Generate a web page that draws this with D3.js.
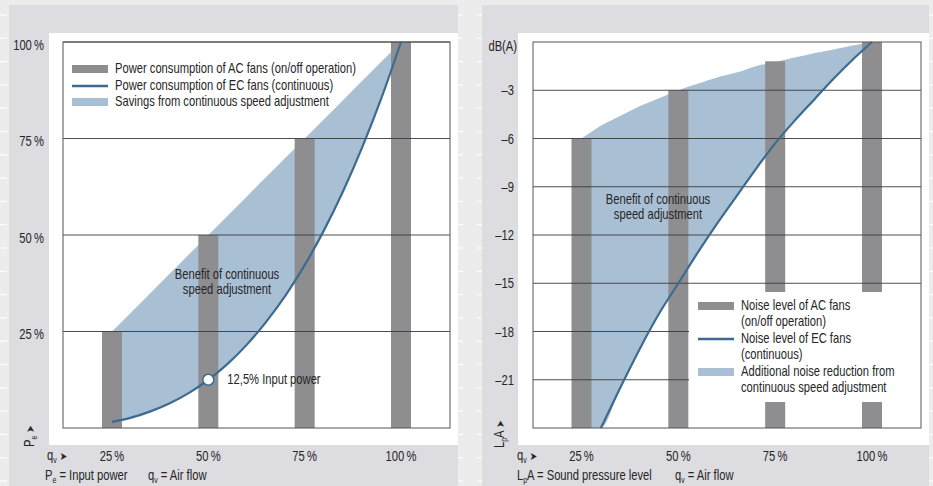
<!DOCTYPE html>
<html>
<head>
<meta charset="utf-8">
<script src="https://cdn.jsdelivr.net/npm/d3@7"></script>
<style>
  html, body { margin: 0; padding: 0; background: #ececec; }
  svg { display: block; }
  text { font-family: "Liberation Sans", Arial, sans-serif; fill: #262626; white-space: pre; }
</style>
</head>
<body>
<svg id="chart" width="933" height="486"></svg>
<script>
/* chart data */
const airFlow = [25, 50, 75, 100];                 // q_v in %
const flowTickLabels = ['25\u2009%', '50\u2009%', '75\u2009%', '100\u2009%'];

// left chart: input power (%)
const acPower = [25, 50, 75, 100];
const ecFlow = [25, 30, 35, 40, 45, 50, 55, 60, 65, 70, 75, 80, 85, 90, 95, 100];
const ecPower = [1.6, 2.7, 4.3, 6.4, 9.1, 12.5, 16.6, 21.6, 27.5, 34.3, 42.2, 51.2, 61.4, 72.9, 85.7, 100];
const powerTicks = [25, 50, 75, 100];
const powerTickLabels = ['25\u2009%', '50\u2009%', '75\u2009%', '100\u2009%'];

// right chart: noise level dB(A)
const acNoise = [-6, -3, -1.2, 0];
const acNoiseFlow = [25, 30, 35, 40, 45, 50, 55, 60, 65, 70, 75, 80, 85, 90, 95, 100];
const acNoiseCurve = [-6, -5.2, -4.6, -4.0, -3.5, -3.0, -2.6, -2.2, -1.9, -1.5, -1.25, -0.97, -0.7, -0.46, -0.22, 0];
const ecNoiseFlow = [30, 35, 40, 45, 50, 55, 60, 65, 70, 75, 80, 85, 90, 95, 100];
const ecNoise = [-24, -21.5, -19.1, -16.9, -15, -13.1, -11.3, -9.6, -7.9, -6.3, -4.9, -3.6, -2.3, -1.1, 0];
const noiseTicks = [-3, -6, -9, -12, -15, -18, -21];
const noiseTickLabels = ['–3', '–6', '–9', '–12', '–15', '–18', '–21'];

const barColour = '#8e8e91';
const lineColour = '#3b6b90';
const shadeColour = '#a9c0d4';
const fontSize = 14;
const squeeze = 0.8;   // narrow look of the original typeface

const svg = d3.select('#chart');

// decorative white marks on the page background
const markY = d3.range(15, 486, 23.3);
const markX = [[0, 7], [458, 463], [477, 482], [929, 933]];
markX.forEach(([x1, x2]) => {
  svg.append('g').selectAll('line').data(markY).enter().append('line')
    .attr('x1', x1).attr('x2', x2)
    .attr('y1', d => d).attr('y2', d => d)
    .attr('stroke', '#fff').attr('stroke-width', 1.2);
});

// condensed text at x,y
const addText = (parent, x, y, anchor, rotate) => {
  const tr = `translate(${x},${y})` + (rotate ? ` rotate(${rotate})` : '') + ` scale(${squeeze},1)`;
  return parent.append('g').attr('transform', tr)
    .append('text')
    .attr('text-anchor', anchor || 'start')
    .attr('dominant-baseline', 'middle')
    .attr('font-size', fontSize);
};

// rich text: parts = [[text, isSub], ...]
const richText = (sel, parts) => {
  parts.forEach(([t, sub]) => {
    const ts = sel.append('tspan').text(t);
    if (sub) ts.attr('font-size', fontSize * 0.62).attr('baseline-shift', -3);
  });
  return sel;
};

const drawPanel = cfg => {
  const g = svg.append('g');

  // grey panel and white plot area
  g.append('rect').attr('x', cfg.panel[0]).attr('y', 5)
    .attr('width', cfg.panel[1] - cfg.panel[0]).attr('height', 486 - 5)
    .attr('fill', '#dcdce1');
  g.append('rect').attr('x', cfg.white[0]).attr('y', 33)
    .attr('width', cfg.white[1] - cfg.white[0]).attr('height', 445 - 33)
    .attr('fill', '#fff');

  const xScale = d3.scaleLinear().domain([25, 100]).range(cfg.xRange);
  const yScale = d3.scaleLinear().domain(cfg.yDomain).range([428, 42]);
  const [fx0, fx1] = cfg.frame;

  // shaded benefit area
  const area = d3.area()
    .x(d => xScale(d.q))
    .y0(d => yScale(d.lo))
    .y1(d => yScale(d.hi))
    .curve(d3.curveMonotoneX);
  g.append('path').datum(cfg.shade).attr('d', area).attr('fill', shadeColour);

  // AC bars
  g.selectAll('.bar').data(airFlow).enter().append('rect')
    .attr('class', 'bar')
    .attr('x', d => xScale(d) - 10)
    .attr('width', 20)
    .attr('y', (d, i) => yScale(cfg.bars[i]))
    .attr('height', (d, i) => yScale(cfg.yDomain[0]) - yScale(cfg.bars[i]))
    .attr('fill', barColour);

  // grid lines
  g.selectAll('.grid').data(cfg.ticks).enter().append('line')
    .attr('x1', fx0).attr('x2', fx1)
    .attr('y1', d => yScale(d)).attr('y2', d => yScale(d))
    .attr('stroke', '#3a3a3a').attr('stroke-width', 0.9);

  // EC line
  const line = d3.line().x(d => xScale(d[0])).y(d => yScale(d[1])).curve(d3.curveMonotoneX);
  g.append('path').datum(d3.zip(cfg.ecX, cfg.ecY)).attr('d', line)
    .attr('fill', 'none').attr('stroke', lineColour).attr('stroke-width', 2.2);

  // legend box (hides things underneath)
  if (cfg.legendBox) {
    const b = cfg.legendBox;
    g.append('rect').attr('x', b[0]).attr('y', b[1]).attr('width', b[2]).attr('height', b[3]).attr('fill', '#fff');
  }

  // frame
  g.append('rect').attr('x', fx0).attr('y', 42).attr('width', fx1 - fx0).attr('height', 428 - 42)
    .attr('fill', 'none').attr('stroke', '#555').attr('stroke-width', 1);

  // y tick labels
  cfg.ticks.forEach((d, i) => {
    addText(g, cfg.yLabelX, yScale(d) + cfg.yLabelDy, 'end').text(cfg.tickLabels[i]);
  });

  // x tick labels
  airFlow.forEach((d, i) => {
    addText(g, xScale(d), 457, 'middle').text(flowTickLabels[i]);
  });

  // q_v arrow label
  const qv = addText(g, cfg.qvX, 457);
  richText(qv, [['q'], ['v', true], [' ']]);
  qv.append('tspan').attr('font-family', 'DejaVu Sans').attr('font-size', 11).text('➤');

  // caption
  cfg.caption.forEach(c => {
    richText(addText(g, c.x, 477), c.parts);
  });

  // rotated y axis label
  const yl = addText(g, cfg.yAxisLabel[0], cfg.yAxisLabel[1], 'start', -90);
  richText(yl, cfg.yAxisParts);
  yl.append('tspan').attr('font-family', 'DejaVu Sans').attr('font-size', 11).text(' ➤');

  // legend
  cfg.legend.forEach(item => {
    const y = item.y;
    if (item.kind === 'bar') {
      g.append('rect').attr('x', cfg.legendX).attr('y', y - 4).attr('width', 36).attr('height', 8).attr('fill', barColour);
    } else if (item.kind === 'line') {
      g.append('line').attr('x1', cfg.legendX).attr('x2', cfg.legendX + 36).attr('y1', y).attr('y2', y)
        .attr('stroke', lineColour).attr('stroke-width', 2.4);
    } else if (item.kind === 'area') {
      g.append('rect').attr('x', cfg.legendX).attr('y', y - 4).attr('width', 36).attr('height', 8).attr('fill', shadeColour);
    }
    item.lines.forEach((t, i) => {
      addText(g, cfg.legendX + 43, y + i * 16.4).text(t);
    });
  });

  // annotation
  cfg.note.lines.forEach((t, i) => {
    addText(g, cfg.note.x, cfg.note.y + i * 15.5, 'middle').text(t);
  });

  return { g, xScale, yScale };
};

// left chart: power consumption
const leftShade = ecFlow.map((q, i) => ({ q, lo: ecPower[i], hi: q }));
const left = drawPanel({
  panel: [9, 458], white: [49, 458], frame: [63, 450],
  xRange: [112, 401], yDomain: [0, 100],
  shade: leftShade, bars: acPower,
  ticks: powerTicks, tickLabels: powerTickLabels, yLabelX: 44, yLabelDy: 4,
  ecX: ecFlow, ecY: ecPower,
  qvX: 47,
  caption: [
    { x: 45, parts: [['P'], ['e', true], [' = Input power']] },
    { x: 148, parts: [['q'], ['v', true], [' = Air flow']] }
  ],
  yAxisLabel: [31, 447], yAxisParts: [['P'], ['e', true]],
  legendX: 72,
  legend: [
    { kind: 'bar', y: 69, lines: ['Power consumption of AC fans (on/off operation)'] },
    { kind: 'line', y: 86, lines: ['Power consumption of EC fans (continuous)'] },
    { kind: 'area', y: 102, lines: ['Savings from continuous speed adjustment'] }
  ],
  note: { x: 227, y: 275, lines: ['Benefit of continuous', 'speed adjustment'] }
});

// 12,5 % marker
left.g.append('circle')
  .attr('cx', left.xScale(50)).attr('cy', left.yScale(ecPower[5])).attr('r', 5.5)
  .attr('fill', '#fff').attr('stroke', lineColour).attr('stroke-width', 1.5);
addText(left.g, left.xScale(50) + 19, left.yScale(ecPower[5]) + 1).text('12,5% Input power');

// right chart: noise level
const rightShade = [{ q: 25, lo: -24, hi: acNoiseCurve[0] }]
  .concat(acNoiseFlow.slice(1).map((q, i) => {
    const j = ecNoiseFlow.indexOf(q);
    return { q, lo: j >= 0 ? ecNoise[j] : -24, hi: acNoiseCurve[i + 1] };
  }));
const right = drawPanel({
  panel: [482, 929], white: [518, 929], frame: [533, 921],
  xRange: [581.5, 872], yDomain: [-24, 0],
  shade: rightShade, bars: acNoise,
  ticks: noiseTicks, tickLabels: noiseTickLabels, yLabelX: 514, yLabelDy: 1.5,
  ecX: ecNoiseFlow, ecY: ecNoise,
  qvX: 517,
  caption: [
    { x: 517, parts: [['L'], ['p', true], ['A = Sound pressure level']] },
    { x: 675, parts: [['q'], ['v', true], [' = Air flow']] }
  ],
  yAxisLabel: [501, 448], yAxisParts: [['L'], ['p', true], ['A']],
  legendBox: [689, 292, 232, 110],
  legendX: 698,
  legend: [
    { kind: 'bar', y: 306, lines: ['Noise level of AC fans', '(on/off operation)'] },
    { kind: 'line', y: 339, lines: ['Noise level of EC fans', '(continuous)'] },
    { kind: 'area', y: 372, lines: ['Additional noise reduction from', 'continuous speed adjustment'] }
  ],
  note: { x: 658, y: 200, lines: ['Benefit of continuous', 'speed adjustment'] }
});

addText(right.g, 517, 47, 'end').text('dB(A)');
</script>
</body>
</html>
